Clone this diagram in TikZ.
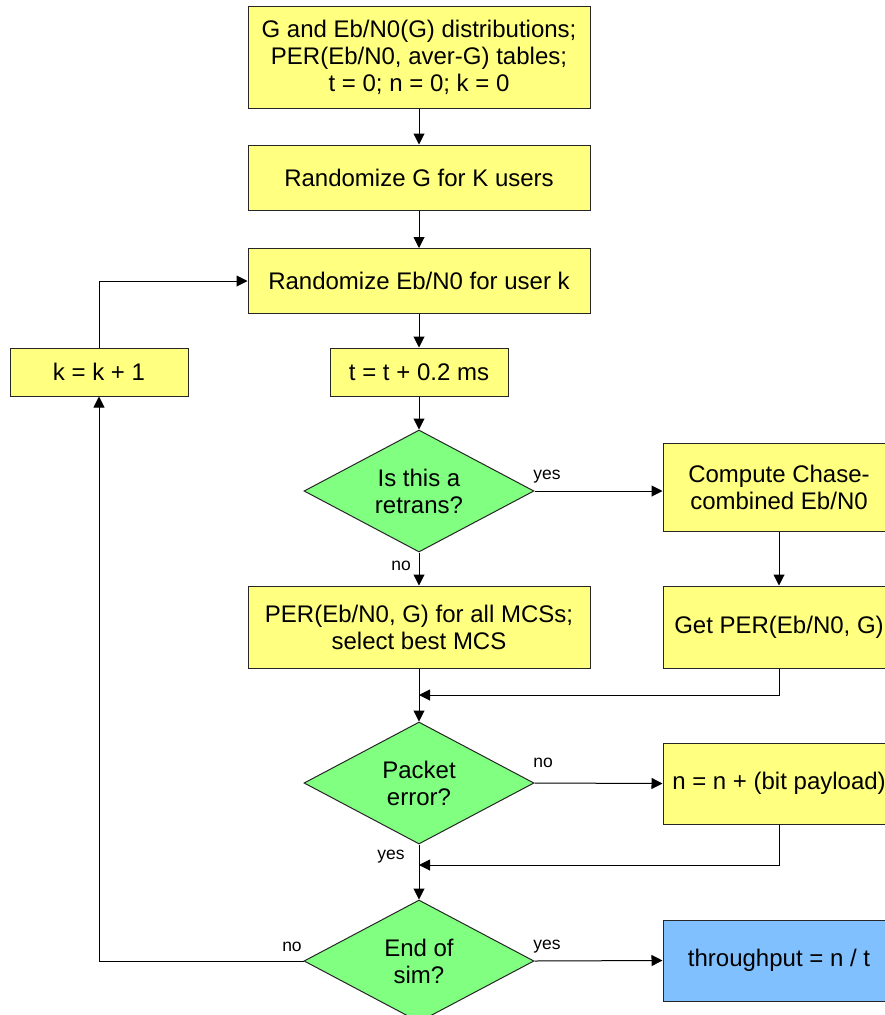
\documentclass[tikz,border=0pt]{standalone}
\usepackage{fontspec}
\setmainfont{Liberation Sans}
\usetikzlibrary{shapes.geometric,arrows.meta}
\definecolor{boxyellow}{HTML}{FFFF80}
\definecolor{diagreen}{HTML}{80FF80}
\definecolor{endblue}{HTML}{80C0FF}
\tikzset{
  procbox/.style={draw=black!85, line width=1pt, fill=boxyellow, align=center,
    inner sep=0pt, font=\fontsize{24}{27}\selectfont},
  wide/.style={minimum width=342pt},
  small/.style={minimum width=178pt, minimum height=48pt},
  side/.style={minimum width=232pt},
  decision/.style={diamond, draw=black!85, line width=1pt, fill=diagreen, align=center,
    inner sep=0pt, aspect=1.9, minimum width=230pt, minimum height=122pt,
    font=\fontsize{24}{27}\selectfont},
  flow/.style={draw=black, line width=1pt, -{Triangle[length=11pt,width=11pt]}},
  edgelabel/.style={font=\fontsize{17.5}{19}\selectfont, inner sep=0pt}
}
\begin{document}
\begin{tikzpicture}[x=1pt,y=-1pt]
\clip (0,0) rectangle (885,1015);
\fill[white] (0,0) rectangle (885,1015);

% main column
\node[procbox, wide, minimum height=102pt] (init) at (419,57.5)
  {G and Eb/N0(G) distributions;\\PER(Eb/N0, aver-G) tables;\\t = 0; n = 0; k = 0};
\node[procbox, wide, minimum height=65pt] (randG) at (419,177.5) {Randomize G for K users};
\node[procbox, wide, minimum height=65pt] (randEb) at (419,281) {Randomize Eb/N0 for user k};
\node[procbox, small] (kinc) at (99,372) {k = k + 1};
\node[procbox, small] (tinc) at (419,372) {t = t + 0.2 ms};
\node[decision] (retrans) at (419,491) {Is this a\\retrans?};
\node[procbox, side, minimum height=88pt] (chase) at (779,487) {Compute Chase-\\combined Eb/N0};
\node[procbox, wide, minimum height=82pt] (perall) at (419,627)
  {PER(Eb/N0, G) for all MCSs;\\select best MCS};
\node[procbox, side, minimum height=82pt] (getper) at (779,627) {Get PER(Eb/N0, G)};
\node[decision] (packet) at (419,783) {Packet\\error?};
\node[procbox, side, minimum height=81pt] (nbox) at (779,783.5) {n = n + (bit payload)};
\node[decision] (endsim) at (419,961) {End of\\sim?};
\node[procbox, side, minimum height=81pt, fill=endblue] (thr) at (779,960.5) {throughput = n / t};

% junction points on the main column
\coordinate (m1) at (419,695);
\coordinate (m2) at (419,865);

% connectors
\draw[flow] (init) -- (randG);
\draw[flow] (randG) -- (randEb);
\draw[flow] (randEb) -- (tinc);
\draw[flow] (tinc) -- (retrans);
\draw[flow] (retrans.east) -- (retrans.east -| chase.west);
\draw[flow] (retrans.south) -- (perall.north);
\draw[flow] (chase) -- (getper);
\draw[flow] (getper.south) |- (m1);
\draw[flow] (perall.south) -- (packet.north);
\draw[flow] (packet.east) -- (nbox.west);
\draw[flow] (nbox.south) |- (m2);
\draw[flow] (packet.south) -- (endsim.north);
\draw[flow] (endsim.east) -- (thr.west);
\draw[flow] (endsim.west) -| (kinc.south);
\draw[flow] (kinc.north) |- (randEb.west);

% branch labels
\node[edgelabel] (l1) at (547,477) {yes};
\node[edgelabel] (l2) at (401,566) {no};
\node[edgelabel] (l3) at (543,763) {no};
\node[edgelabel] (l4) at (391,857) {yes};
\node[edgelabel] (l5) at (547,947) {yes};
\node[edgelabel] (l6) at (292,947) {no};
\end{tikzpicture}
\end{document}
